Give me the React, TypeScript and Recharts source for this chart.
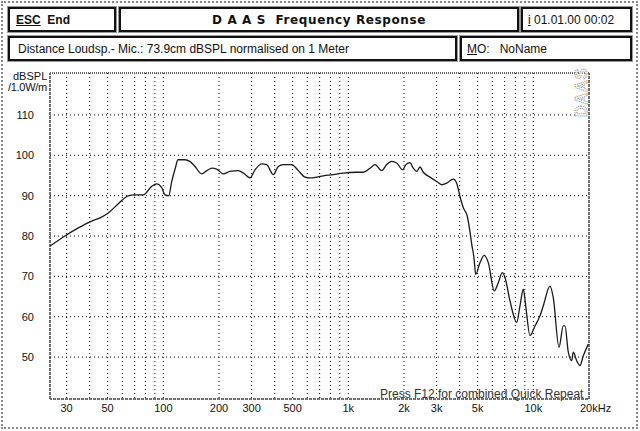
import React from "react"
import { LineChart, Line, XAxis, YAxis, CartesianGrid, ReferenceArea } from "recharts"

const freqs = [
  24.4, 29.4, 34.7, 41, 45.5, 50.4, 57.1, 63.4, 68.8, 77.9, 86.5, 92.1, 98, 102, 107, 111, 116, 120,
  131, 139, 148, 161, 172, 183, 194, 211, 229, 254, 271, 294, 313, 340, 362, 393, 418, 445, 494,
  537, 583, 620, 675, 732, 830, 939, 1110, 1205, 1310, 1394, 1515, 1612, 1716, 1826, 1967, 2050,
  2154, 2245, 2342, 2440, 2542, 2765, 3004, 3199, 3402, 3694, 3853, 4014, 4185, 4397, 4548, 4646,
  4780, 4882, 5148, 5434, 5710, 6151, 6466, 6798, 7030, 7481, 8130, 8472, 8828, 9096, 9597, 10211,
  10865, 11322, 12305, 12822, 13764, 14520, 14835, 15457, 16121, 16443, 17156, 17875, 18627, 19820,
]
const spl = [
  77.5, 80.0, 82.0, 83.7, 84.5, 85.7, 88.0, 89.8, 90.2, 90.2, 92.3, 92.9, 92.0, 90.2, 90.0, 93.5, 96.8, 98.9,
  98.9, 98.5, 97.3, 95.4, 96.2, 96.8, 96.6, 95.4, 96.0, 96.2, 95.6, 94.4, 96.4, 97.9, 97.7, 95.2, 97.2, 97.7, 97.7,
  96.2, 94.6, 94.4, 94.6, 94.9, 95.2, 95.6, 95.8, 95.8, 96.8, 97.7, 96.2, 97.7, 98.5, 98.1, 96.4, 97.7,
  98.2, 96.8, 96.0, 97.1, 95.8, 94.6, 93.5, 92.7, 93.1, 94.1, 93.1, 89.8, 87.0, 84.9, 81.0, 78.0,
  74.5, 70.5, 73.4, 75.2, 73.4, 66.4, 68.4, 70.9, 69.7, 63.9, 58.6, 62.7, 66.8, 62.7, 55.3, 57.7,
  60.2, 62.7, 67.6, 64.7, 52.4, 57.7, 57.7, 51.2, 49.1, 51.2, 49.1, 47.9, 50.3, 53.2,
]

const gridFreqs = [
  30, 40, 50, 60, 70, 80, 90, 100, 200, 300, 400, 500, 600, 700, 800, 900,
  1000, 2000, 3000, 4000, 5000, 6000, 7000, 8000, 9000, 10000, 20000,
]
const xLabels: Record<number, string> = {
  30: "30", 50: "50", 100: "100", 200: "200", 300: "300", 500: "500",
  1000: "1k", 2000: "2k", 3000: "3k", 5000: "5k", 10000: "10k", 20000: "20kHz",
}
const yTicks = [50, 60, 70, 80, 90, 100, 110]
const xDomain = [24.4, 20000]
const yDomain = [39.6, 120.4]

const data = freqs.map((f, i) => ({ f, db: spl[i] }))

const FONT = "'Liberation Sans', Arial, sans-serif"

const XTick = ({ x, y, payload }: any) => {
  const lab = xLabels[payload.value]
  if (!lab) return <g />
  const isLast = payload.value === 20000
  return (
    <text
      x={isLast ? x - 9 : x}
      y={y + 11}
      textAnchor={isLast ? "start" : "middle"}
      fontSize={11}
      fontFamily={FONT}
      fill="#111"
    >
      {lab}
    </text>
  )
}

const box = (left: number, top: number, width: number, height: number): React.CSSProperties => ({
  position: "absolute",
  left,
  top,
  width,
  height,
  border: "2px solid #111",
  boxShadow: "0 0 0 1px #999",
  boxSizing: "border-box",
  background: "#fff",
  display: "flex",
  alignItems: "center",
  fontFamily: FONT,
  fontSize: 12,
  color: "#111",
})

export default function App() {
  return (
    <div style={{ position: "absolute", left: 0, top: 0, width: 640, height: 431, background: "#fff", overflow: "hidden" }}>
      <div style={{ position: "absolute", left: 1, top: 1, width: 637, height: 428, border: "2px dotted #888", boxSizing: "border-box" }} />

      <div style={box(8, 7, 108, 25)}>
        <span style={{ marginLeft: 6, fontWeight: "bold", fontSize: 12 }}>
          <u>ESC</u>&nbsp;&nbsp;End
        </span>
      </div>
      <div style={{ ...box(119, 7, 400, 25), justifyContent: "center" }}>
        <span style={{ fontWeight: "bold", fontSize: 12, fontFamily: "'DejaVu Sans', sans-serif", whiteSpace: "pre", letterSpacing: 0.6 }}>
          D A A S  Frequency Response
        </span>
      </div>
      <div style={box(521, 7, 111, 25)}>
        <span style={{ marginLeft: 5, whiteSpace: "pre" }}>
          <u>i</u> 01.01.00 00:02
        </span>
      </div>
      <div style={box(8, 36, 449, 25)}>
        <span style={{ marginLeft: 8, whiteSpace: "pre" }}>
          Distance Loudsp.- Mic.: 73.9cm dBSPL normalised on 1 Meter
        </span>
      </div>
      <div style={box(460, 36, 172, 25)}>
        <span style={{ marginLeft: 5, whiteSpace: "pre" }}>
          <u>M</u>O:   NoName
        </span>
      </div>

      <div style={{ position: "absolute", left: 13, top: 71, fontFamily: FONT, fontSize: 11, color: "#111", lineHeight: "11px" }}>
        dBSPL
      </div>
      <div style={{ position: "absolute", left: 8, top: 82, fontFamily: FONT, fontSize: 11, color: "#111", lineHeight: "11px", letterSpacing: -0.3 }}>
        /1.0W/m
      </div>

      <div style={{ position: "absolute", left: 0, top: 0 }}>
        <LineChart width={640} height={431} data={data} margin={{ top: 73, right: 51, bottom: 12, left: 10 }}>
          <CartesianGrid stroke="#000" strokeDasharray="1 3" />
          <XAxis
            dataKey="f"
            type="number"
            scale="log"
            domain={xDomain}
            allowDataOverflow
            ticks={gridFreqs}
            interval={0}
            tick={<XTick />}
            tickLine={false}
            axisLine={false}
            tickSize={0}
            tickMargin={2}
            height={20}
          />
          <YAxis
            type="number"
            domain={yDomain}
            allowDataOverflow
            ticks={yTicks}
            tickLine={false}
            axisLine={false}
            tickSize={0}
            tickMargin={16}
            width={40}
            tick={{ fontSize: 11, fontFamily: FONT, fill: "#111" }}
          />
          <ReferenceArea
            x1={xDomain[0]}
            x2={xDomain[1]}
            y1={yDomain[0]}
            y2={yDomain[1]}
            fill="none"
            stroke="#666"
            strokeWidth={2}
            strokeDasharray="1 1"
          />
          <Line
            type="monotone"
            dataKey="db"
            stroke="#1a1a1a"
            strokeWidth={1.3}
            dot={false}
            isAnimationActive={false}
          />
        </LineChart>
      </div>

      <svg style={{ position: "absolute", left: 0, top: 0 }} width={640} height={431}>
        <text
          transform="translate(587 117) rotate(-90)"
          fontSize={16}
          fontWeight="bold"
          fontFamily={FONT}
          fill="#fff"
          stroke="#888"
          strokeWidth={1}
          strokeDasharray="1 1"
          letterSpacing={1}
        >
          DAAS
        </text>
      </svg>

      <div
        style={{
          position: "absolute",
          left: 380,
          top: 388,
          fontFamily: FONT,
          fontSize: 12,
          color: "#333",
          whiteSpace: "pre",
          lineHeight: "12px",
        }}
      >
        Press F12 for combined Quick Repeat
      </div>
    </div>
  )
}
